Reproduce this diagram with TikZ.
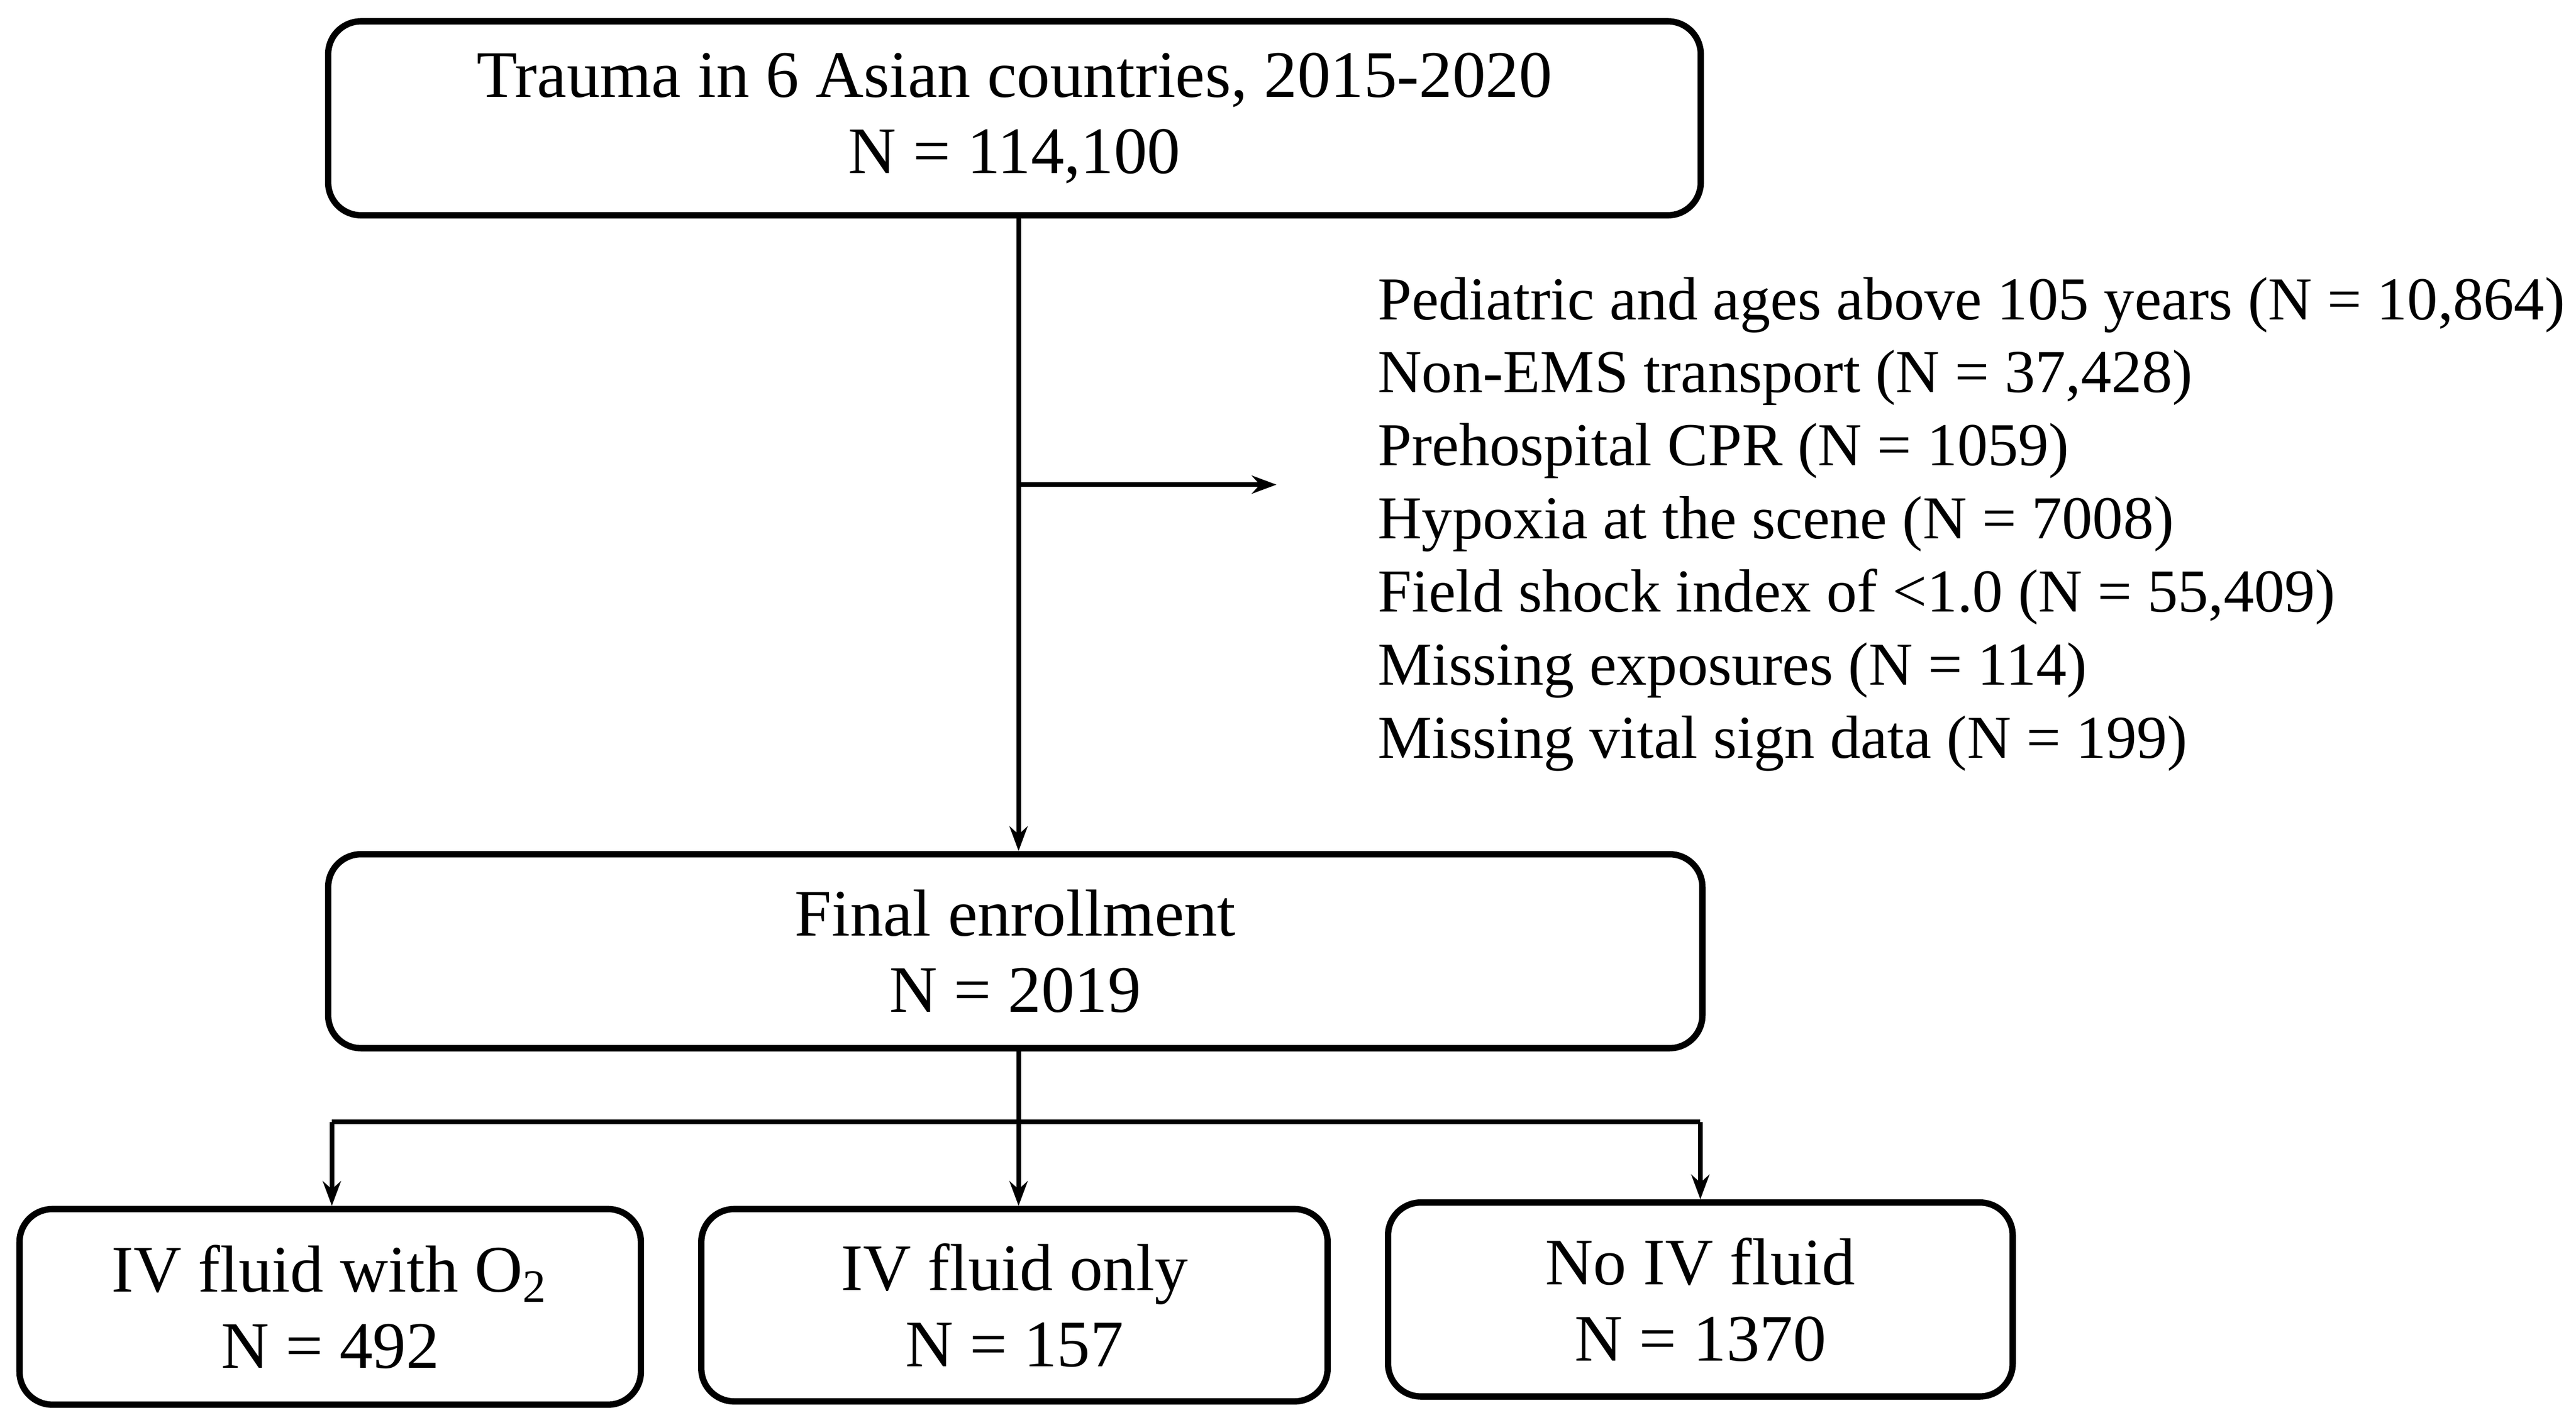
\documentclass[tikz,border=0pt]{standalone}
\usepackage{fontspec}
\setmainfont{Liberation Serif}
\usetikzlibrary{arrows.meta}
\begin{document}
\begin{tikzpicture}[x=0.01cm,y=-0.01cm,
  box/.style={draw,line width=1.1pt,rounded corners=0.2cm,align=center,font=\fontsize{11.5}{13.2}\selectfont},
  arr/.style={line width=0.8pt,-{Stealth[length=0.15cm,width=0.11cm]}},
  ln/.style={line width=0.8pt}]
\useasboundingbox (0,0) rectangle (1568,867.3);
\node[box,minimum width=8.35cm,minimum height=1.18cm] (b1) at (617.5,72) {Trauma in 6 Asian countries, 2015-2020\\N = 114,100};
\node[box,minimum width=8.36cm,minimum height=1.18cm] (b2) at (618,579) {Final enrollment\\N = 2019};
\node[box,minimum width=3.78cm,minimum height=1.19cm] (b3) at (201,795.5) {IV fluid with O\textsubscript{2}\\N = 492};
\node[box,minimum width=3.81cm,minimum height=1.17cm] (b4) at (617.5,794.5) {IV fluid only\\N = 157};
\node[box,minimum width=3.80cm,minimum height=1.18cm] (b5) at (1035,791) {No IV fluid\\N = 1370};
\node[anchor=north west,align=left,inner sep=0,font=\fontsize{10.55}{12.65}\selectfont] (ex) at (838,168) {Pediatric and ages above 105 years (N = 10,864)\\Non-EMS transport (N = 37,428)\\Prehospital CPR (N = 1059)\\Hypoxia at the scene (N = 7008)\\Field shock index of <1.0 (N = 55,409)\\Missing exposures (N = 114)\\Missing vital sign data (N = 199)};
\coordinate (m) at (620,295);
\coordinate (me) at (777,295);
\coordinate (h) at (620,683);
\coordinate (hl) at (202,683);
\coordinate (hr) at (1035,683);
\draw[arr] (b1.south -| m) -- (b2.north -| m);
\draw[arr] (m) -- (me);
\draw[arr] (b2.south -| h) -- (b4.north -| h);
\draw[ln] (hl) -- (hr);
\draw[arr] (hl) -- (b3.north -| hl);
\draw[arr] (hr) -- (b5.north -| hr);
\end{tikzpicture}
\end{document}
